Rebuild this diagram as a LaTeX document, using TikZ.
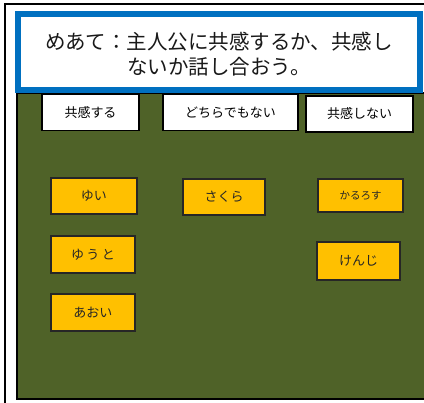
\documentclass[tikz,border=0pt]{standalone}
\usepackage{fontspec}
\newfontfamily\jp{Noto Sans CJK JP}
\definecolor{board}{HTML}{4F6228}
\definecolor{card}{HTML}{FFC000}
\definecolor{goalblue}{HTML}{0070C0}
\tikzset{
  hdr/.style={draw=black, line width=1.3pt, fill=white, inner sep=0pt,
    minimum width=#1, minimum height=36pt, font=\jp\fontsize{13}{15}\selectfont},
  namecard/.style={draw=black!85, line width=1.3pt, fill=card, inner sep=0pt,
    font=\jp\fontsize{13}{15}\selectfont, text=black!85}
}
\begin{document}
\begin{tikzpicture}[x=1pt,y=-1pt]
\useasboundingbox (0,0) rectangle (424,403);
\clip (0,0) rectangle (424,403);
\fill[white] (0,0) rectangle (424,403);
% outer frame
\draw[line width=2pt] (5,4) rectangle (440,420);
% board
\draw[line width=2pt, fill=board] (17,93) rectangle (440,399);
% header boxes
\node[hdr=97pt] (h1) at (90.5,112.5) {共感する};
\node[hdr=135pt] (h2) at (230.5,112.5) {どちらでもない};
\node[hdr=107pt] (h3) at (359.5,114) {共感しない};
% cards
\node[namecard, minimum width=86pt, minimum height=36pt] (yui) at (94,196) {ゆい\hspace{19pt}};
\node[namecard, minimum width=84pt, minimum height=37pt] (yuto) at (93,254.5) {ゆ\kern2.5pt う\kern2.5pt と};
\node[namecard, minimum width=84pt, minimum height=37pt] (aoi) at (93,312.5) {あおい};
\node[namecard, minimum width=82pt, minimum height=36pt] (sakura) at (224,197) {さくら};
\node[namecard, minimum width=85pt, minimum height=33pt, font=\jp\fontsize{10.5}{12}\selectfont] (karurosu) at (360.5,195.5) {かるろす};
\node[namecard, minimum width=83pt, minimum height=38pt] (kenji) at (358.5,261) {けんじ};
% goal box
\draw[goalblue, line width=6pt, fill=white] (18,14) rectangle (420,90);
\node[align=center, font=\jp\fontsize{20.5}{25}\selectfont, text=black!90] (goal) at (219,54)
  {めあて：主人公に共感するか、共感し\\ないか話し合おう。};
\end{tikzpicture}
\end{document}
